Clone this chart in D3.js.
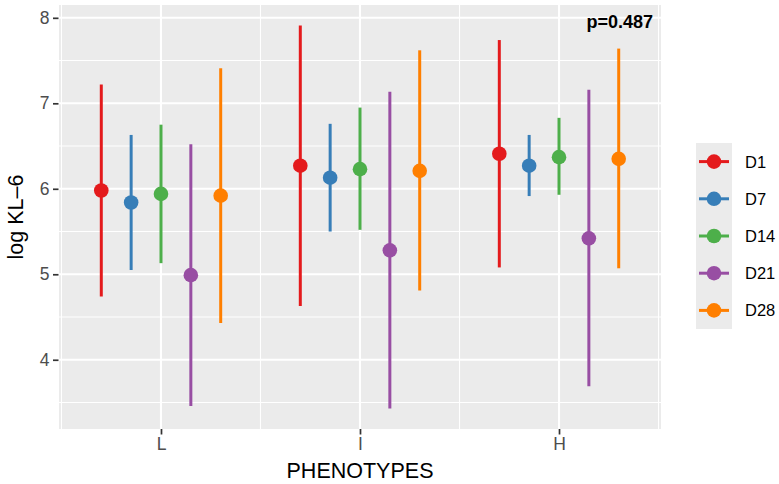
<!DOCTYPE html>
<html>
<head>
<meta charset="utf-8">
<script src="https://cdn.jsdelivr.net/npm/d3@7"></script>
<style>
  html, body { margin: 0; padding: 0; background: #ffffff; }
  svg { display: block; font-family: "Liberation Sans", Arial, Helvetica, sans-serif; }
</style>
</head>
<body>
<svg id="chart" width="779" height="484"></svg>
<script>
// ---- data ----
const phenotypes = ["L", "I", "H"];
const days = ["D1", "D7", "D14", "D21", "D28"];
const colors = ["#E41A1C", "#377EB8", "#4DAF4A", "#984EA3", "#FF7F00"];
// per day: values for L, I, H
const meanD1  = [5.98, 6.27, 6.41];
const lowD1   = [4.74, 4.63, 5.08];
const highD1  = [7.22, 7.91, 7.74];
const meanD7  = [5.84, 6.13, 6.27];
const lowD7   = [5.05, 5.50, 5.915];
const highD7  = [6.63, 6.76, 6.63];
const meanD14 = [5.94, 6.23, 6.37];
const lowD14  = [5.13, 5.52, 5.93];
const highD14 = [6.75, 6.95, 6.83];
const meanD21 = [4.99, 5.28, 5.42];
const lowD21  = [3.46, 3.43, 3.69];
const highD21 = [6.52, 7.135, 7.16];
const meanD28 = [5.92, 6.21, 6.35];
const lowD28  = [4.43, 4.81, 5.07];
const highD28 = [7.41, 7.62, 7.64];
const yTicks = [4, 5, 6, 7, 8];
const yMinor = [3.5, 4.5, 5.5, 6.5, 7.5];
const pLabel = "p=0.487";

const means = [meanD1, meanD7, meanD14, meanD21, meanD28];
const lows  = [lowD1, lowD7, lowD14, lowD21, lowD28];
const highs = [highD1, highD7, highD14, highD21, highD28];

const rows = [];
days.forEach((d, i) => {
  phenotypes.forEach((p, j) => {
    rows.push({day: d, phen: p, mean: means[i][j], low: lows[i][j], high: highs[i][j], color: colors[i]});
  });
});

// ---- layout ----
const svg = d3.select("#chart");
const panel = {left: 59, right: 661, top: 5, bottom: 429};
const unit = (panel.right - panel.left) / 3.025; // pixels per category unit

// continuous x in category units (1..3), like ggplot discrete+dodge
const xc = d3.scaleLinear().domain([0.4875, 3.5125]).range([panel.left, panel.right]);
const xCat = d3.scalePoint().domain(phenotypes).range([xc(1), xc(3)]);
const xDodge = d3.scaleBand().domain(days).range([-0.375 * unit, 0.375 * unit]);
const y = d3.scaleLinear().domain([3.19, 8.15]).range([panel.bottom, panel.top]);
const col = d3.scaleOrdinal().domain(days).range(colors);

// panel background
svg.append("rect")
  .attr("x", panel.left).attr("y", panel.top)
  .attr("width", panel.right - panel.left).attr("height", panel.bottom - panel.top)
  .attr("fill", "#EBEBEB");

const grid = svg.append("g");
// minor horizontal
grid.selectAll(".ymin").data(yMinor).enter().append("line")
  .attr("x1", panel.left).attr("x2", panel.right)
  .attr("y1", d => y(d)).attr("y2", d => y(d))
  .attr("stroke", "#ffffff").attr("stroke-width", 1.1);
// minor vertical (between categories)
grid.selectAll(".xmin").data([0.5, 1.5, 2.5, 3.5]).enter().append("line")
  .attr("x1", d => xc(d)).attr("x2", d => xc(d))
  .attr("y1", panel.top).attr("y2", panel.bottom)
  .attr("stroke", "#ffffff").attr("stroke-width", 1.1);
// major horizontal
grid.selectAll(".ymaj").data(yTicks).enter().append("line")
  .attr("x1", panel.left).attr("x2", panel.right)
  .attr("y1", d => y(d)).attr("y2", d => y(d))
  .attr("stroke", "#ffffff").attr("stroke-width", 2.1);
// major vertical
grid.selectAll(".xmaj").data(phenotypes).enter().append("line")
  .attr("x1", d => xCat(d)).attr("x2", d => xCat(d))
  .attr("y1", panel.top).attr("y2", panel.bottom)
  .attr("stroke", "#ffffff").attr("stroke-width", 2.1);

// ---- marks ----
const xPos = r => xCat(r.phen) + xDodge(r.day) + xDodge.bandwidth() / 2;
const marks = svg.append("g");
marks.selectAll(".err").data(rows).enter().append("line")
  .attr("x1", xPos).attr("x2", xPos)
  .attr("y1", r => y(r.low)).attr("y2", r => y(r.high))
  .attr("stroke", r => col(r.day)).attr("stroke-width", 3);
marks.selectAll(".pt").data(rows).enter().append("circle")
  .attr("cx", xPos).attr("cy", r => y(r.mean)).attr("r", 7.3)
  .attr("fill", r => col(r.day));

// ---- axes ----
const yAxis = d3.axisLeft(y).tickValues(yTicks).tickSize(5.5).tickPadding(3.5).tickFormat(d3.format("d"));
const gy = svg.append("g").attr("transform", `translate(${panel.left - 0.5},0)`).call(yAxis);
const xAxis = d3.axisBottom(xCat).tickSize(5.5).tickPadding(3);
const gx = svg.append("g").attr("transform", `translate(0,${panel.bottom})`).call(xAxis);
[gy, gx].forEach(g => {
  g.select(".domain").remove();
  g.selectAll(".tick line").attr("stroke", "#333333").attr("stroke-width", 1.7);
  g.selectAll(".tick text").attr("fill", "#4D4D4D")
    .style("font-size", "17.5px").style("font-family", "'Liberation Sans', Arial, sans-serif");
});

// axis titles
svg.append("text")
  .attr("x", (panel.left + panel.right) / 2).attr("y", 478)
  .attr("text-anchor", "middle").attr("fill", "#000")
  .style("font-size", "21.5px").text("PHENOTYPES");
svg.append("text")
  .attr("transform", `translate(23,${(panel.top + panel.bottom) / 2}) rotate(-90)`)
  .attr("text-anchor", "middle").attr("fill", "#000")
  .style("font-size", "21.5px").text("log KL\u20136");

// p label
svg.append("text")
  .attr("x", 653).attr("y", 27.5).attr("text-anchor", "end")
  .attr("fill", "#000").style("font-size", "18px").style("font-weight", "bold")
  .text(pLabel);

// ---- legend ----
const keyH = 37.2, keyTop = 143, keyX = 696, keyW = 36;
const leg = svg.append("g");
leg.append("rect").attr("x", keyX).attr("y", keyTop)
  .attr("width", keyW).attr("height", keyH * days.length).attr("fill", "#EBEBEB");
const items = leg.selectAll(".item").data(days).enter().append("g")
  .attr("transform", (d, i) => `translate(0,${keyTop + keyH * i + keyH / 2})`);
items.append("line").attr("x1", keyX + 3).attr("x2", keyX + keyW - 3)
  .attr("y1", 0).attr("y2", 0).attr("stroke", d => col(d)).attr("stroke-width", 3);
items.append("circle").attr("cx", keyX + keyW / 2).attr("cy", 0).attr("r", 7.3)
  .attr("fill", d => col(d));
items.append("text").attr("x", 745).attr("y", 0).attr("dy", "0.36em")
  .attr("fill", "#000").style("font-size", "16.5px").text(d => d);
</script>
</body>
</html>
